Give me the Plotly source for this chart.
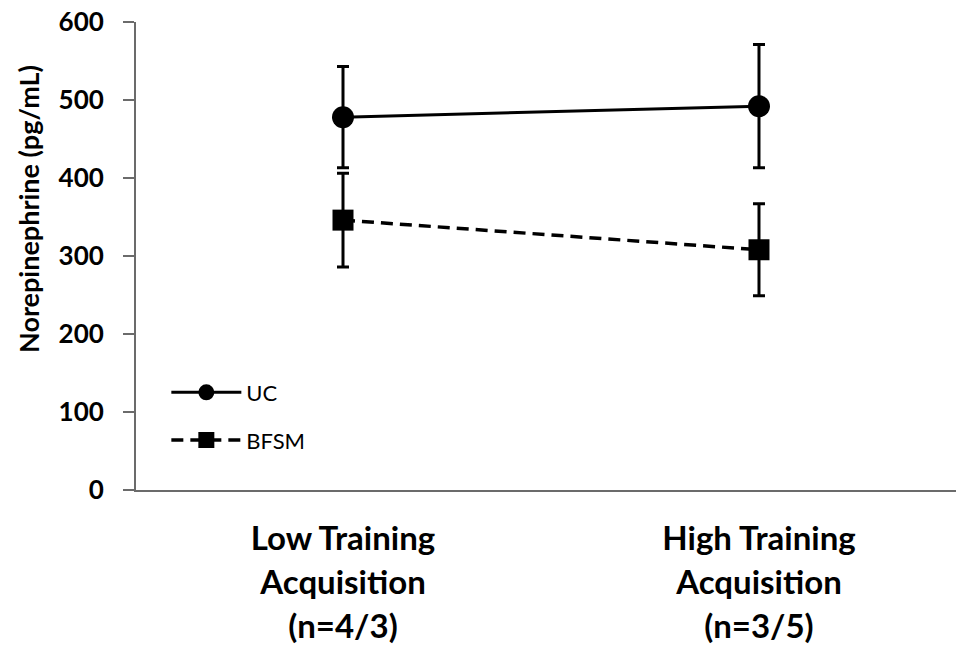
import plotly.graph_objects as go

categories = ["Low Training<br>Acquisition<br>(n=4/3)", "High Training<br>Acquisition<br>(n=3/5)"]
uc_mean = [478, 492]
uc_err = [65, 79]
bfsm_mean = [346, 308]
bfsm_err = [60, 59]
y_ticks = [0, 100, 200, 300, 400, 500, 600]

x_idx = list(range(len(categories)))
small = lambda s: "<br>".join(f"<span style='font-size:33px'>{p}</span>" for p in s.split("<br>"))

fig = go.Figure()
fig.add_trace(go.Scatter(
    x=x_idx, y=uc_mean, name="UC", mode="lines+markers",
    line=dict(color="black", width=3),
    marker=dict(symbol="circle", size=22, color="black"),
    error_y=dict(type="data", array=uc_err, color="black", thickness=3, width=6),
    legendgroup="a",
))
fig.add_trace(go.Scatter(
    x=x_idx, y=bfsm_mean, name="BFSM", mode="lines+markers",
    line=dict(color="black", width=3.5, dash="12px,7px"),
    marker=dict(symbol="square", size=21, color="black"),
    error_y=dict(type="data", array=bfsm_err, color="black", thickness=3, width=6),
    legendgroup="b",
))

fig.update_layout(
    width=956, height=651,
    margin=dict(l=136, r=0, t=22, b=161, autoexpand=False),
    plot_bgcolor="white", paper_bgcolor="white",
    font=dict(family="Lato", color="black"),
    showlegend=True,
    legend=dict(
        x=0.037, y=0.157, xanchor="left", yanchor="middle",
        bgcolor="rgba(0,0,0,0)", itemwidth=70, tracegroupgap=16,
        font=dict(family="Lato", size=22, color="black"),
    ),
    xaxis=dict(
        range=[-0.4976, 1.4736], tickmode="array", tickvals=x_idx,
        ticktext=[small(c) for c in categories],
        tickfont=dict(family="Lato", size=34, color="black", weight="bold"),
        showline=True, linecolor="#6b6b6b", linewidth=2, automargin=False,
        ticks="", showgrid=False, zeroline=False, ticklabelstandoff=17,
    ),
    yaxis=dict(
        range=[0, 600], tickmode="array", tickvals=y_ticks,
        ticktext=[str(v) for v in y_ticks], automargin=False,
        tickfont=dict(family="Lato", size=26, color="black", weight="bold"),
        showline=True, linecolor="#6b6b6b", linewidth=2,
        ticks="outside", ticklen=11, tickcolor="#6b6b6b", tickwidth=2,
        showgrid=False, zeroline=False, ticklabelstandoff=14,
    ),
    annotations=[dict(
        text="Norepinephrine (pg/mL)", textangle=-90,
        xref="paper", yref="paper", x=(28 - 136) / 820, y=(490 - 209) / 468,
        xanchor="center", yanchor="middle", showarrow=False,
        font=dict(family="Lato", size=27, color="black", weight="bold"),
    )],
)

fig.write_html("out.html", config={"displayModeBar": False},
               post_script="document.body.style.margin='0';document.body.style.overflow='hidden';")
